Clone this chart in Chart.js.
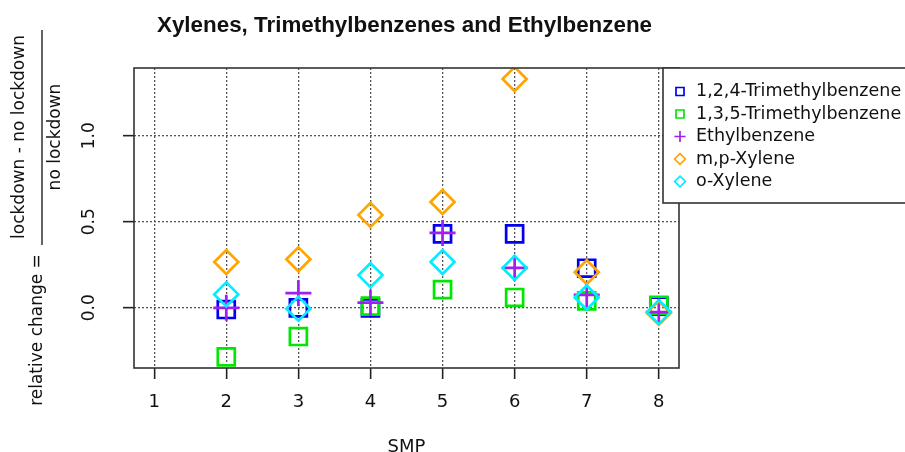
<!DOCTYPE html>
<html>
<head>
<meta charset="utf-8">
<title>Xylenes, Trimethylbenzenes and Ethylbenzene</title>
<script src="https://cdn.jsdelivr.net/npm/chart.js@4.4.1/dist/chart.umd.min.js"></script>
<style>
  html, body { margin: 0; padding: 0; background: #fff; }
  canvas { display: block; }
</style>
</head>
<body>
<canvas id="chart" width="905" height="452"></canvas>
<script>
// relative change (lockdown vs no lockdown) per SMP
const smp = [2, 3, 4, 5, 6, 7, 8];
const tmb124   = [-0.01, 0.00, 0.00, 0.43, 0.43, 0.23, 0.01];
const tmb135   = [-0.285, -0.167, 0.01, 0.106, 0.06, 0.04, 0.015];
const ethyl    = [0.00, 0.085, 0.03, 0.435, 0.232, 0.075, -0.025];
const mpXylene = [0.266, 0.282, 0.54, 0.615, 1.33, 0.207, -0.03];
const oXylene  = [0.078, -0.005, 0.19, 0.266, 0.232, 0.06, -0.025];

const seriesNames = ['1,2,4-Trimethylbenzene', '1,3,5-Trimethylbenzene', 'Ethylbenzene', 'm,p-Xylene', 'o-Xylene'];
const xTicks = [1, 2, 3, 4, 5, 6, 7, 8];
const yTicks = [0, 0.5, 1.0];
const xRange = [0.72, 8.28];
const yRange = [-0.35, 1.394];

const FONT = '"DejaVu Sans", "Liberation Sans", sans-serif';

const styles = [
  { color: '#0000ee', pointStyle: 'rect',    radius: 12 },
  { color: '#00e800', pointStyle: 'rect',    radius: 12 },
  { color: '#a020f0', pointStyle: 'cross',   radius: 13 },
  { color: '#ffa500', pointStyle: 'rectRot', radius: 12 },
  { color: '#00eeff', pointStyle: 'rectRot', radius: 12 }
];

function toPoints(values) {
  return smp.map((x, i) => ({ x: x, y: values[i] }));
}

const allValues = [tmb124, tmb135, ethyl, mpXylene, oXylene];
const datasets = allValues.map((vals, i) => ({
  label: seriesNames[i],
  data: toPoints(vals),
  pointStyle: styles[i].pointStyle,
  pointRadius: styles[i].radius,
  pointBorderWidth: 2.7,
  borderColor: styles[i].color,
  backgroundColor: 'rgba(0,0,0,0)',
  showLine: false,
  order: allValues.length - i   // later series on top
}));

// small legend symbols
function drawMark(ctx, style, x, y, r) {
  ctx.beginPath();
  if (style === 'rect') {
    ctx.rect(x - r, y - r, 2 * r, 2 * r);
  } else if (style === 'rectRot') {
    const d = r * 1.35;
    ctx.moveTo(x, y - d); ctx.lineTo(x + d, y); ctx.lineTo(x, y + d); ctx.lineTo(x - d, y); ctx.closePath();
  } else {
    const d = r * 1.4;
    ctx.moveTo(x - d, y); ctx.lineTo(x + d, y);
    ctx.moveTo(x, y - d); ctx.lineTo(x, y + d);
  }
  ctx.stroke();
}

function fitText(ctx, text, x, y, width) {
  const w = ctx.measureText(text).width;
  ctx.save();
  ctx.translate(x, y);
  ctx.scale(width / w, 1);
  ctx.fillText(text, 0, 0);
  ctx.restore();
}

const decorations = {
  id: 'decorations',
  afterDraw(chart) {
    const { ctx, chartArea: a, scales: { y } } = chart;
    ctx.save();

    // plot box
    ctx.strokeStyle = '#333';
    ctx.lineWidth = 1.6;
    ctx.strokeRect(a.left, a.top, a.right - a.left, a.bottom - a.top);

    ctx.fillStyle = '#111';

    // y tick labels, written along the axis
    ctx.font = '17px ' + FONT;
    ctx.textAlign = 'center';
    ctx.textBaseline = 'middle';
    y.ticks.forEach(t => {
      ctx.save();
      ctx.translate(90, y.getPixelForValue(t.value));
      ctx.rotate(-Math.PI / 2);
      ctx.fillText(t.value.toFixed(1), 0, 0);
      ctx.restore();
    });

    // title
    ctx.font = 'bold 22px "Liberation Sans Narrow", "Liberation Sans", sans-serif';
    ctx.textAlign = 'left';
    ctx.textBaseline = 'alphabetic';
    fitText(ctx, 'Xylenes, Trimethylbenzenes and Ethylbenzene', 157, 32, 495);

    // x axis title
    ctx.font = '18px ' + FONT;
    ctx.textAlign = 'center';
    ctx.fillText('SMP', (a.left + a.right) / 2, 452);

    // y axis title: relative change = (lockdown - no lockdown) / no lockdown
    ctx.font = '17px ' + FONT;
    ctx.textBaseline = 'middle';
    const rot = (txt, cx, cy) => {
      ctx.save();
      ctx.translate(cx, cy);
      ctx.rotate(-Math.PI / 2);
      ctx.fillText(txt, 0, 0);
      ctx.restore();
    };
    rot('relative change =', 38, 330);
    rot('lockdown - no lockdown', 20, 137);
    rot('no lockdown', 56, 137);
    ctx.strokeStyle = '#111';
    ctx.lineWidth = 1.3;
    ctx.beginPath();
    ctx.moveTo(42, 30);
    ctx.lineTo(42, 245);
    ctx.stroke();

    // legend box
    ctx.fillStyle = '#fff';
    ctx.fillRect(663, 68, 260, 135);
    ctx.strokeStyle = '#333';
    ctx.lineWidth = 1.6;
    ctx.strokeRect(663, 68, 260, 135);

    ctx.font = '17.5px ' + FONT;
    ctx.textAlign = 'left';
    ctx.textBaseline = 'middle';
    seriesNames.forEach((name, i) => {
      const ly = 91.5 + i * 22.5;
      ctx.strokeStyle = styles[i].color;
      ctx.lineWidth = 1.7;
      drawMark(ctx, styles[i].pointStyle, 680, ly, 4);
      ctx.fillStyle = '#111';
      ctx.fillText(name, 696, ly);
    });

    ctx.restore();
  }
};

const gridStyle = {
  color: '#555',
  lineWidth: 1.3,
  tickColor: '#222',
  tickWidth: 1.6,
  tickLength: 11
};

new Chart(document.getElementById('chart'), {
  type: 'scatter',
  data: { datasets: datasets },
  options: {
    responsive: false,
    animation: false,
    layout: { padding: { top: 68, right: 226, left: 0, bottom: 0 } },
    plugins: {
      legend: { display: false },
      title: { display: false },
      tooltip: { enabled: false }
    },
    scales: {
      x: {
        type: 'linear',
        min: xRange[0],
        max: xRange[1],
        afterBuildTicks: s => { s.ticks = xTicks.map(v => ({ value: v })); },
        afterFit: s => { s.height = 84; },
        grid: gridStyle,
        border: { display: false, dash: [2, 2] },
        ticks: {
          color: '#111',
          padding: 13,
          font: { family: FONT, size: 18 },
          callback: v => String(v)
        }
      },
      y: {
        type: 'linear',
        min: yRange[0],
        max: yRange[1],
        afterBuildTicks: s => { s.ticks = yTicks.map(v => ({ value: v })); },
        afterFit: s => { s.width = 134; },
        grid: gridStyle,
        border: { display: false, dash: [2, 2] },
        ticks: { display: false }
      }
    }
  },
  plugins: [decorations]
});
</script>
</body>
</html>
